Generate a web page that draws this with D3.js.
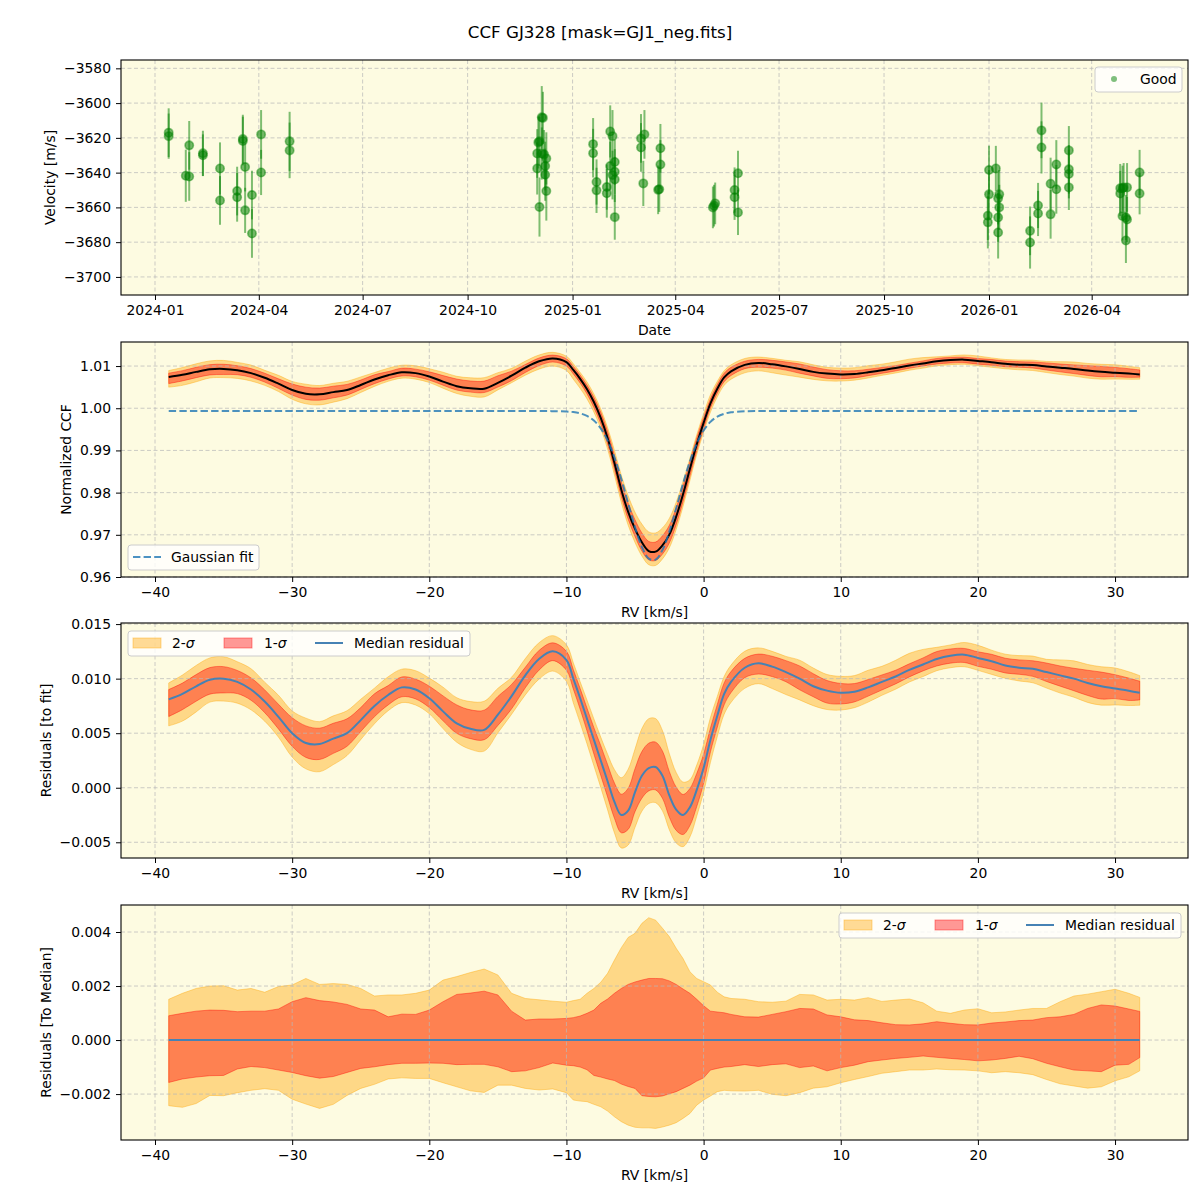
<!DOCTYPE html>
<html>
<head>
<meta charset="utf-8">
<script src="https://cdn.jsdelivr.net/npm/d3@7"></script>
<style>
  body { margin: 0; background: #ffffff; }
  text { font-family: "DejaVu Sans", sans-serif; fill: #000; }
</style>
</head>
<body>
<svg id="chart" width="1200" height="1200"></svg>
<script>
// ---------------- data ----------------

// top panel : RV time series
const obsDates = [
  "2024-01-13","2024-01-13","2024-01-28","2024-01-31","2024-01-31","2024-02-12","2024-02-12",
  "2024-02-27","2024-02-27","2024-03-13","2024-03-13","2024-03-18","2024-03-18","2024-03-20",
  "2024-03-20","2024-03-26","2024-03-26","2024-04-03","2024-04-03","2024-04-28","2024-04-28",
  "2024-12-05","2024-12-06","2024-12-02","2024-12-03","2024-12-01","2024-12-05","2024-12-07",
  "2024-12-09","2024-12-01","2024-12-08","2024-12-08","2024-12-09","2024-12-03",
  "2025-01-19","2025-01-19","2025-01-22","2025-01-22","2025-02-03","2025-02-05","2025-02-07",
  "2025-02-03","2025-02-07","2025-02-05","2025-02-07","2025-01-31","2025-01-31","2025-02-07",
  "2025-03-02","2025-03-05","2025-03-02","2025-03-04","2025-03-19","2025-03-19","2025-03-17",
  "2025-03-18","2025-05-04","2025-05-05","2025-05-06","2025-05-23","2025-05-23","2025-05-26",
  "2025-05-26","2026-01-01","2026-01-01","2025-12-31","2025-12-31","2026-01-07","2026-01-09",
  "2026-01-10","2026-01-10","2026-01-09","2026-01-09","2026-02-06","2026-02-06","2026-02-13",
  "2026-02-13","2026-02-16","2026-02-16","2026-02-24","2026-02-24","2026-03-01","2026-03-01",
  "2026-03-12","2026-03-12","2026-03-12","2026-03-12","2026-04-26","2026-04-28","2026-04-29",
  "2026-04-26","2026-04-28","2026-05-02","2026-05-01","2026-05-02","2026-05-01","2026-05-13",
  "2026-05-13"
];
const obsVel = [
  -3617,-3619,-3641.8,-3642.2,-3624.3,-3628.9,-3630,
  -3637.6,-3656,-3650.6,-3654.2,-3620.7,-3621.8,-3636.8,
  -3661.7,-3652.9,-3675,-3618,-3639.9,-3622,-3627.2,
  -3608.2,-3608.5,-3622.6,-3622,-3629,-3629,-3629.5,
  -3631.8,-3637.6,-3636.2,-3641.2,-3650.6,-3659.8,
  -3623.6,-3628.8,-3645.4,-3650.2,-3616.3,-3619,-3633.9,
  -3636.2,-3639.5,-3641.4,-3643.9,-3648.3,-3651.9,-3665.6,
  -3620.3,-3618,-3625.5,-3646.2,-3626,-3635.3,-3649.9,
  -3649.6,-3660,-3659,-3657.7,-3650,-3654.2,-3640.4,
  -3662.9,-3638.5,-3652.5,-3664.8,-3668.6,-3637.6,-3654.8,
  -3652.5,-3660,-3665.8,-3674.4,-3673.5,-3680.2,-3658.9,
  -3663.5,-3615.7,-3625.5,-3646.4,-3664,-3635.3,-3649.6,
  -3627.2,-3638.1,-3640.8,-3648.5,-3649,-3649,-3648.5,
  -3652,-3665,-3648.5,-3665.8,-3667,-3679,-3639.9,
  -3652
];
const obsErr = [
  14,13,15,14,14,13,12,
  15,14,14,14,14,14,14,
  13,14,14,14,13,17,16,
  18,15,15,14,14,15,14,
  15,15,14,15,17,17,
  15,14,13,13,15,15,13,
  14,13,14,13,13,14,13,
  14,14,14,13,14,14,14,
  13,12,12,12,13,13,13,
  13,14,14,14,15,13,15,
  14,13,14,15,14,15,13,
  13,16,15,15,14,14,14,
  14,14,14,13,14,13,14,
  13,14,14,13,13,13,13,
  12
];

// RV grid shared by the three CCF panels [km/s]
const rvGrid = [
  -39,-38,-37,-36,-35,-34,-33,-32,-31,-30,-29,-28,-27,-26,-25,-24,-23,-22,-21,-20,-19,-18,-17,-16,-15,-14,-13,-12,-11,
  -10,-9.5,-9,-8.5,-8,-7.5,-7,-6.5,-6,-5.5,-5,-4.5,-4,-3.5,-3,-2.5,-2,-1.5,-1,-0.5,0,0.5,1,1.5,2,
  3,4,5,6,7,8,9,10,11,12,13,14,15,16,17,18,19,20,21,22,23,24,25,26,27,28,29,30,31,31.8
];

// median normalized CCF
const ccfMedian = [
  1.00742,1.00792,1.00862,1.00922,1.00932,1.00902,1.00832,1.00722,1.00582,1.00432,1.00342,1.00332,1.00382,1.00432,1.00552,1.00682,1.00782,1.00852,1.00832,1.00752,1.00632,1.00522,1.00472,1.00462,1.00602,1.00772,1.00962,1.01112,1.01181,
  1.01092,1.00909,1.00697,1.00449,1.00147,0.99770,0.99294,0.98704,0.98070,0.97543,0.97140,0.96822,0.96616,0.96601,0.96750,0.97005,0.97430,0.97962,0.98558,0.99143,0.99653,1.00117,1.00461,1.00729,1.00874,
  1.01028,1.01072,1.01042,1.00992,1.00932,1.00862,1.00822,1.00802,1.00812,1.00852,1.00902,1.00952,1.01012,1.01062,1.01112,1.01142,1.01152,1.01122,1.01092,1.01052,1.01032,1.01022,1.00992,1.00962,1.00932,1.00892,1.00862,1.00842,1.00822,1.00802
];

// Gaussian fit (dashed)
const gaussFit = [
  0.99932,0.99932,0.99932,0.99932,0.99932,0.99932,0.99932,0.99932,0.99932,0.99932,0.99932,0.99932,0.99932,0.99932,0.99932,0.99932,0.99932,0.99932,0.99932,0.99932,0.99932,0.99932,0.99932,0.99932,0.99932,0.99932,0.99932,0.99932,0.99931,
  0.99922,0.99909,0.99879,0.99819,0.99708,0.99521,0.99234,0.98834,0.98324,0.97748,0.97180,0.96712,0.96436,0.96411,0.96640,0.97075,0.97630,0.98212,0.98738,0.99163,0.99473,0.99677,0.99801,0.99869,0.99904,
  0.99928,0.99932,0.99932,0.99932,0.99932,0.99932,0.99932,0.99932,0.99932,0.99932,0.99932,0.99932,0.99932,0.99932,0.99932,0.99932,0.99932,0.99932,0.99932,0.99932,0.99932,0.99932,0.99932,0.99932,0.99932,0.99932,0.99932,0.99932,0.99932,0.99932
];

// median residual to the fit
const residMedian = [
  0.0081,0.0086,0.0093,0.0099,0.0100,0.0097,0.0090,0.0079,0.0065,0.0050,0.0041,0.0040,0.0045,0.0050,0.0062,0.0075,0.0085,0.0092,0.0090,0.0082,0.0070,0.0059,0.0054,0.0053,0.0067,0.0084,0.0103,0.0118,0.0125,
  0.0117,0.0100,0.0082,0.0063,0.0044,0.0025,0.0006,-0.0013,-0.0025,-0.0021,-0.0004,0.0011,0.0018,0.0019,0.0011,-0.0007,-0.0020,-0.0025,-0.0018,-0.0002,0.0018,0.0044,0.0066,0.0086,0.0097,
  0.0110,0.0114,0.0111,0.0106,0.0100,0.0093,0.0089,0.0087,0.0088,0.0092,0.0097,0.0102,0.0108,0.0113,0.0118,0.0121,0.0122,0.0119,0.0116,0.0112,0.0110,0.0109,0.0106,0.0103,0.0100,0.0096,0.0093,0.0091,0.0089,0.0087
];

// spread around the median (bottom panel), 1 and 2 sigma
const sig2Hi = [
  0.00151,0.00173,0.00191,0.00200,0.00201,0.00185,0.00191,0.00177,0.00198,0.00204,0.00228,0.00206,0.00209,0.00206,0.00191,0.00163,0.00167,0.00167,0.00173,0.00185,0.00222,0.00235,0.00250,0.00263,0.00241,0.00173,0.00154,0.00149,0.00144,
  0.00140,0.00146,0.00151,0.00173,0.00191,0.00214,0.00247,0.00296,0.00342,0.00380,0.00395,0.00432,0.00453,0.00444,0.00414,0.00383,0.00340,0.00302,0.00253,0.00228,0.00216,0.00204,0.00177,0.00160,0.00154,
  0.00151,0.00142,0.00140,0.00144,0.00169,0.00167,0.00148,0.00151,0.00148,0.00157,0.00143,0.00148,0.00152,0.00138,0.00107,0.00099,0.00111,0.00116,0.00101,0.00104,0.00111,0.00117,0.00117,0.00142,0.00163,0.00170,0.00179,0.00188,0.00173,0.00158
];
const sig1Hi = [
  0.00090,0.00099,0.00107,0.00111,0.00110,0.00105,0.00107,0.00107,0.00115,0.00142,0.00157,0.00146,0.00141,0.00132,0.00115,0.00111,0.00086,0.00096,0.00095,0.00111,0.00142,0.00169,0.00174,0.00181,0.00167,0.00107,0.00074,0.00078,0.00078,
  0.00080,0.00083,0.00089,0.00099,0.00111,0.00136,0.00152,0.00173,0.00191,0.00206,0.00215,0.00222,0.00228,0.00228,0.00227,0.00219,0.00206,0.00189,0.00173,0.00151,0.00127,0.00107,0.00104,0.00101,0.00095,
  0.00086,0.00085,0.00095,0.00105,0.00117,0.00115,0.00093,0.00086,0.00075,0.00072,0.00064,0.00057,0.00056,0.00060,0.00068,0.00062,0.00057,0.00056,0.00063,0.00067,0.00072,0.00074,0.00083,0.00086,0.00095,0.00117,0.00130,0.00126,0.00115,0.00106
];
const sig1Lo = [
  -0.00157,-0.00144,-0.00137,-0.00132,-0.00131,-0.00107,-0.00098,-0.00102,-0.00111,-0.00120,-0.00132,-0.00141,-0.00135,-0.00120,-0.00105,-0.00099,-0.00091,-0.00086,-0.00086,-0.00085,-0.00086,-0.00091,-0.00090,-0.00090,-0.00099,-0.00117,-0.00114,-0.00102,-0.00085,
  -0.00093,-0.00095,-0.00100,-0.00110,-0.00131,-0.00137,-0.00144,-0.00150,-0.00163,-0.00172,-0.00179,-0.00206,-0.00209,-0.00210,-0.00207,-0.00199,-0.00191,-0.00179,-0.00167,-0.00152,-0.00140,-0.00111,-0.00105,-0.00100,-0.00098,
  -0.00091,-0.00098,-0.00091,-0.00088,-0.00102,-0.00096,-0.00114,-0.00102,-0.00093,-0.00080,-0.00074,-0.00068,-0.00064,-0.00059,-0.00064,-0.00068,-0.00072,-0.00077,-0.00074,-0.00068,-0.00060,-0.00069,-0.00086,-0.00099,-0.00111,-0.00114,-0.00117,-0.00093,-0.00090,-0.00065
];
const sig2Lo = [
  -0.00243,-0.00249,-0.00235,-0.00205,-0.00206,-0.00195,-0.00186,-0.00180,-0.00186,-0.00219,-0.00237,-0.00253,-0.00238,-0.00205,-0.00179,-0.00164,-0.00144,-0.00140,-0.00142,-0.00142,-0.00158,-0.00173,-0.00188,-0.00194,-0.00167,-0.00167,-0.00179,-0.00185,-0.00181,
  -0.00195,-0.00222,-0.00226,-0.00228,-0.00238,-0.00247,-0.00263,-0.00284,-0.00302,-0.00315,-0.00323,-0.00325,-0.00325,-0.00327,-0.00322,-0.00315,-0.00306,-0.00290,-0.00272,-0.00241,-0.00222,-0.00207,-0.00191,-0.00186,-0.00188,
  -0.00189,-0.00186,-0.00201,-0.00206,-0.00195,-0.00178,-0.00173,-0.00158,-0.00146,-0.00135,-0.00123,-0.00117,-0.00111,-0.00111,-0.00107,-0.00110,-0.00111,-0.00114,-0.00121,-0.00117,-0.00121,-0.00128,-0.00146,-0.00162,-0.00170,-0.00178,-0.00173,-0.00151,-0.00136,-0.00114
];
const medianToMedian = 0;

// tick values
const dateTicks = ["2024-01","2024-04","2024-07","2024-10","2025-01","2025-04","2025-07","2025-10","2026-01","2026-04"];
const velTicks = [-3700,-3680,-3660,-3640,-3620,-3600,-3580];
const rvTicks = [-40,-30,-20,-10,0,10,20,30];
const ccfTicks = [0.96,0.97,0.98,0.99,1.00,1.01];
const residTicks = [-0.005,0.000,0.005,0.010,0.015];
const medTicks = [-0.002,0.000,0.002,0.004];

// ---------------- layout ----------------
const svg = d3.select("#chart");
const left = 121, right = 1188;
const fontSize = 13.9;
const bg = "#fdfbe1";
const orange = "#ffa500", red = "#ff0000", green = "#008000";
const medBlue = "#4682b4";

const panels = [
  {top: 60,  bottom: 295},
  {top: 342, bottom: 577},
  {top: 623, bottom: 858},
  {top: 905, bottom: 1140}
];

// title
svg.append("text")
  .attr("x", 600).attr("y", 38)
  .attr("text-anchor", "middle")
  .attr("font-size", 16.7)
  .text("CCF GJ328 [mask=GJ1_neg.fits]");

// generic frame with axes + grid
function drawFrame(p, x, y, xTicks, yTicks, xFmt, yFmt, xLabel, yLabel, yLabelX) {
  let g = svg.append("g");
  g.append("rect")
    .attr("x", left).attr("y", p.top)
    .attr("width", right - left).attr("height", p.bottom - p.top)
    .attr("fill", bg);
  p.g = g;
  p.content = g.append("g");
  p.grid = g.append("g");
  p.lines = g.append("g");

  xTicks.forEach(t => {
    p.grid.append("line")
      .attr("x1", x(t)).attr("x2", x(t))
      .attr("y1", p.top).attr("y2", p.bottom)
      .attr("stroke", "#b8b8b8").attr("stroke-opacity", 0.8)
      .attr("stroke-width", 0.9).attr("stroke-dasharray", "4,2.5");
  });
  yTicks.forEach(t => {
    p.grid.append("line")
      .attr("x1", left).attr("x2", right)
      .attr("y1", y(t)).attr("y2", y(t))
      .attr("stroke", "#b8b8b8").attr("stroke-opacity", 0.8)
      .attr("stroke-width", 0.9).attr("stroke-dasharray", "4,2.5");
  });

  p.axes = svg.append("g");
  let xa = p.axes.append("g")
    .attr("transform", "translate(0," + p.bottom + ")")
    .call(d3.axisBottom(x).tickValues(xTicks).tickFormat(xFmt).tickSize(5).tickPadding(5).tickSizeOuter(0));
  let ya = p.axes.append("g")
    .attr("transform", "translate(" + left + ",0)")
    .call(d3.axisLeft(y).tickValues(yTicks).tickFormat(yFmt).tickSize(5).tickPadding(5).tickSizeOuter(0));
  [xa, ya].forEach(a => {
    a.select(".domain").remove();
    a.selectAll("text").attr("font-size", fontSize).attr("font-family", "DejaVu Sans").attr("fill", "#000");
    a.selectAll("line").attr("stroke", "#000").attr("stroke-width", 1);
  });

  p.axes.append("rect")
    .attr("x", left).attr("y", p.top)
    .attr("width", right - left).attr("height", p.bottom - p.top)
    .attr("fill", "none").attr("stroke", "#000").attr("stroke-width", 1.1);

  p.axes.append("text")
    .attr("x", (left + right) / 2).attr("y", p.bottom + 40)
    .attr("text-anchor", "middle").attr("font-size", fontSize)
    .text(xLabel);
  p.axes.append("text")
    .attr("transform", "translate(" + yLabelX + "," + (p.top + p.bottom) / 2 + ") rotate(-90)")
    .attr("text-anchor", "middle").attr("font-size", fontSize)
    .text(yLabel);
}

function legendBox(x0, y0, w, h) {
  let lg = svg.append("g");
  lg.append("rect")
    .attr("x", x0).attr("y", y0).attr("width", w).attr("height", h)
    .attr("rx", 3).attr("ry", 3)
    .attr("fill", "#fff").attr("fill-opacity", 0.8)
    .attr("stroke", "#cccccc").attr("stroke-width", 1);
  return lg;
}

function sigmaLabel(lg, x0, yc, n) {
  let t = lg.append("text")
    .attr("x", x0).attr("y", yc).attr("dy", "0.35em")
    .attr("font-size", fontSize);
  t.append("tspan").text(n + "-");
  t.append("tspan").attr("font-style", "italic").text("σ");
}

function bandLegend(x0, y0) {
  let lg = legendBox(x0, y0, 342, 25);
  let yc = y0 + 12;
  lg.append("rect").attr("x", x0 + 5).attr("y", yc - 5).attr("width", 28).attr("height", 10)
    .attr("fill", orange).attr("fill-opacity", 0.4)
    .attr("stroke", orange).attr("stroke-opacity", 0.4);
  sigmaLabel(lg, x0 + 44, yc, 2);
  lg.append("rect").attr("x", x0 + 96).attr("y", yc - 5).attr("width", 28).attr("height", 10)
    .attr("fill", red).attr("fill-opacity", 0.4)
    .attr("stroke", red).attr("stroke-opacity", 0.4);
  sigmaLabel(lg, x0 + 136, yc, 1);
  lg.append("line").attr("x1", x0 + 187).attr("x2", x0 + 215).attr("y1", yc).attr("y2", yc)
    .attr("stroke", medBlue).attr("stroke-width", 2);
  lg.append("text").attr("x", x0 + 226).attr("y", yc).attr("dy", "0.35em")
    .attr("font-size", fontSize).text("Median residual");
}

// ---------------- panel 1 : velocities ----------------
const parseDay = d3.utcParse("%Y-%m-%d");
const parseMonth = d3.utcParse("%Y-%m");
const x1 = d3.scaleUtc()
  .domain([new Date(Date.UTC(2023, 11, 2, 5)), new Date(Date.UTC(2026, 5, 24, 10))])
  .range([left, right]);
const y1 = d3.scaleLinear().domain([-3710.4, -3575.2]).range([panels[0].bottom, panels[0].top]);

drawFrame(panels[0], x1, y1, dateTicks.map(parseMonth), velTicks,
  d3.utcFormat("%Y-%m"), d3.format("d"), "Date", "Velocity [m/s]", 55);

const obs = obsDates.map((d, i) => ({t: parseDay(d), v: obsVel[i], e: obsErr[i]}));

panels[0].lines.selectAll(".ebar")
  .data(obs).enter().append("line")
  .attr("x1", d => x1(d.t)).attr("x2", d => x1(d.t))
  .attr("y1", d => y1(d.v - d.e)).attr("y2", d => y1(d.v + d.e))
  .attr("stroke", green).attr("stroke-opacity", 0.5).attr("stroke-width", 2);

panels[0].lines.selectAll(".pt")
  .data(obs).enter().append("circle")
  .attr("cx", d => x1(d.t)).attr("cy", d => y1(d.v))
  .attr("r", 4.2)
  .attr("fill", green).attr("fill-opacity", 0.55)
  .attr("stroke", green).attr("stroke-opacity", 0.45).attr("stroke-width", 1.6);

{
  let lg = legendBox(1095, 67, 87, 25);
  lg.append("circle").attr("cx", 1114).attr("cy", 79).attr("r", 3)
    .attr("fill", green).attr("fill-opacity", 0.5);
  lg.append("text").attr("x", 1140).attr("y", 79).attr("dy", "0.35em")
    .attr("font-size", fontSize).text("Good");
}

// ---------------- shared RV scale ----------------
const xRV = d3.scaleLinear().domain([-42.48, 35.32]).range([left, right]);
const rows = rvGrid.map((rv, i) => ({
  rv: rv, ccf: ccfMedian[i], fit: gaussFit[i], res: residMedian[i],
  s2h: sig2Hi[i], s1h: sig1Hi[i], s1l: sig1Lo[i], s2l: sig2Lo[i]
}));
const smooth = d3.curveCatmullRom.alpha(0.5);

function drawBands(p, y, center, curve) {
  let a2 = d3.area().curve(curve).x(d => xRV(d.rv))
    .y0(d => y(center(d) + d.s2l)).y1(d => y(center(d) + d.s2h));
  let a1 = d3.area().curve(curve).x(d => xRV(d.rv))
    .y0(d => y(center(d) + d.s1l)).y1(d => y(center(d) + d.s1h));
  p.content.append("path").datum(rows).attr("d", a2)
    .attr("fill", orange).attr("fill-opacity", 0.4)
    .attr("stroke", orange).attr("stroke-opacity", 0.4).attr("stroke-width", 1);
  p.content.append("path").datum(rows).attr("d", a1)
    .attr("fill", red).attr("fill-opacity", 0.4)
    .attr("stroke", red).attr("stroke-opacity", 0.4).attr("stroke-width", 1);
}

// ---------------- panel 2 : normalized CCF ----------------
const y2 = d3.scaleLinear().domain([0.96, 1.0157]).range([panels[1].bottom, panels[1].top]);
drawFrame(panels[1], xRV, y2, rvTicks, ccfTicks, d3.format("d"), d3.format(".2f"),
  "RV [km/s]", "Normalized CCF", 71);
drawBands(panels[1], y2, d => d.ccf, smooth);

panels[1].lines.append("path").datum(rows)
  .attr("d", d3.line().curve(smooth).x(d => xRV(d.rv)).y(d => y2(d.ccf)))
  .attr("fill", "none").attr("stroke", "#000").attr("stroke-width", 2);
panels[1].lines.append("path").datum(rows)
  .attr("d", d3.line().curve(smooth).x(d => xRV(d.rv)).y(d => y2(d.fit)))
  .attr("fill", "none").attr("stroke", "#1f77b4").attr("stroke-opacity", 0.8)
  .attr("stroke-width", 2).attr("stroke-dasharray", "7.4,3.2");

{
  let lg = legendBox(128, 545, 131, 25);
  lg.append("line").attr("x1", 133).attr("x2", 161).attr("y1", 557).attr("y2", 557)
    .attr("stroke", "#1f77b4").attr("stroke-opacity", 0.8)
    .attr("stroke-width", 2).attr("stroke-dasharray", "7.4,3.2");
  lg.append("text").attr("x", 171).attr("y", 557).attr("dy", "0.35em")
    .attr("font-size", fontSize).text("Gaussian fit");
}

// ---------------- panel 3 : residuals to fit ----------------
const y3 = d3.scaleLinear().domain([-0.00644, 0.0151]).range([panels[2].bottom, panels[2].top]);
drawFrame(panels[2], xRV, y3, rvTicks, residTicks, d3.format("d"), d3.format(".3f"),
  "RV [km/s]", "Residuals [to fit]", 51);
drawBands(panels[2], y3, d => d.res, smooth);
panels[2].lines.append("path").datum(rows)
  .attr("d", d3.line().curve(smooth).x(d => xRV(d.rv)).y(d => y3(d.res)))
  .attr("fill", "none").attr("stroke", medBlue).attr("stroke-width", 2);
bandLegend(128, 631);

// ---------------- panel 4 : residuals to median ----------------
const y4 = d3.scaleLinear().domain([-0.0037, 0.005]).range([panels[3].bottom, panels[3].top]);
drawFrame(panels[3], xRV, y4, rvTicks, medTicks, d3.format("d"), d3.format(".3f"),
  "RV [km/s]", "Residuals [To Median]", 51);
drawBands(panels[3], y4, d => medianToMedian, d3.curveLinear);
panels[3].lines.append("path").datum(rows)
  .attr("d", d3.line().x(d => xRV(d.rv)).y(d => y4(medianToMedian)))
  .attr("fill", "none").attr("stroke", medBlue).attr("stroke-width", 2);
bandLegend(839, 913);
</script>
</body>
</html>
